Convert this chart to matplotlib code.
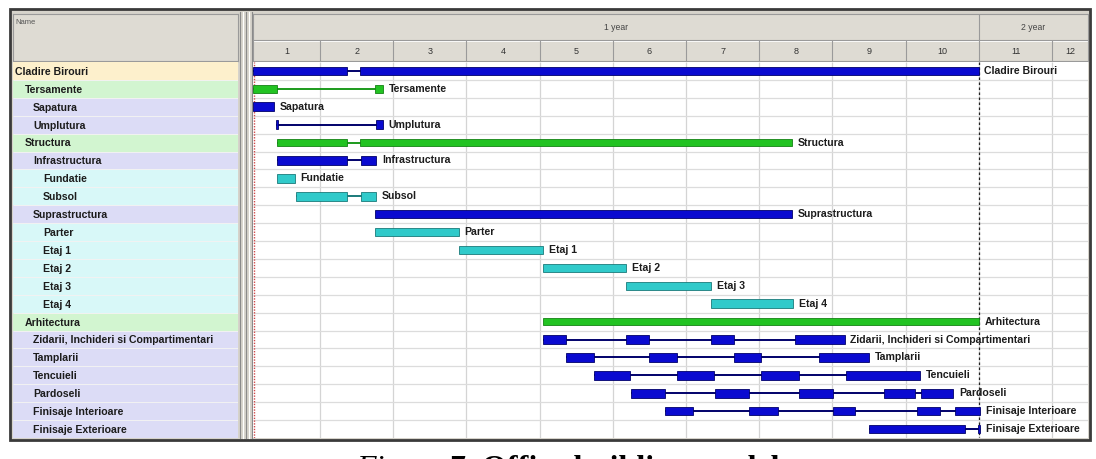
import matplotlib
matplotlib.use("Agg")
import matplotlib.pyplot as plt
from matplotlib.patches import Rectangle
from matplotlib.lines import Line2D

W, H = 1096, 459

# --- date ---
nume = ["Cladire Birouri", "Tersamente", "Sapatura", "Umplutura", "Structura",
        "Infrastructura", "Fundatie", "Subsol", "Suprastructura", "Parter",
        "Etaj 1", "Etaj 2", "Etaj 3", "Etaj 4", "Arhitectura",
        "Zidarii, Inchideri si Compartimentari", "Tamplarii", "Tencuieli",
        "Pardoseli", "Finisaje Interioare", "Finisaje Exterioare"]
nivel = [0, 1, 2, 2, 1, 2, 3, 3, 2, 3, 3, 3, 3, 3, 1, 2, 2, 2, 2, 2, 2]
tip = ["proiect", "grupa", "sarcina", "sarcina", "grupa", "sarcina", "detaliu",
       "detaliu", "sarcina", "detaliu", "detaliu", "detaliu", "detaliu",
       "detaliu", "grupa", "sarcina", "sarcina", "sarcina", "sarcina",
       "sarcina", "sarcina"]

# segmente (inceput, sfarsit) in luni
segmente = [
    [(0.09, 1.37), (1.55, 10.0)],
    [(0.09, 0.41), (1.75, 1.86)],
    [(0.09, 0.37)],
    [(0.40, 0.43), (1.76, 1.86)],
    [(0.41, 1.37), (1.55, 7.45)],
    [(0.41, 1.37), (1.56, 1.77)],
    [(0.41, 0.66)],
    [(0.67, 1.37), (1.56, 1.77)],
    [(1.75, 7.45)],
    [(1.75, 2.90)],
    [(2.90, 4.05)],
    [(4.05, 5.18)],
    [(5.18, 6.34)],
    [(6.34, 7.46)],
    [(4.05, 10.0)],
    [(4.05, 4.36), (5.18, 5.50), (6.34, 6.66), (7.49, 8.17)],
    [(4.36, 4.74), (5.50, 5.88), (6.66, 7.03), (7.82, 8.50)],
    [(4.74, 5.24), (5.88, 6.38), (7.03, 7.54), (8.19, 9.20)],
    [(5.25, 5.71), (6.39, 6.86), (7.54, 8.01), (8.70, 9.13), (9.21, 9.65)],
    [(5.71, 6.09), (6.86, 7.26), (8.01, 8.31), (9.15, 9.47), (9.68, 10.02)],
    [(8.50, 9.81), (9.99, 10.02)],
]

luni = list(range(1, 13))
ani = ["1 year", "2 year"]
limite_ani = [(0.085, 10), (10, 11.49)]
x_min, x_max = 0.085, 11.49
sfarsit_an = 10

culoare_bara = {"proiect": "#0a0ad0", "grupa": "#22c322",
                "sarcina": "#0a0ad0", "detaliu": "#30caca"}
margine_bara = {"proiect": "#00006a", "grupa": "#148214",
                "sarcina": "#00006a", "detaliu": "#1a7a7a"}
fundal_nume = {"proiect": "#fdf0cc", "grupa": "#d2f5d0",
               "sarcina": "#dcdcf6", "detaliu": "#d8f8f8"}

GRI = "#d6d3cb"


def cutie(x0, y0, x1, y1):
    return [x0 / W, 1 - y1 / H, (x1 - x0) / W, (y1 - y0) / H]


fig = plt.figure(figsize=(W / 100, H / 100), dpi=100)
fig.patch.set_facecolor("white")

# rama exterioara
fig.patches.append(Rectangle((10 / W, 1 - 440 / H), 1080 / W, 431 / H,
                             transform=fig.transFigure, facecolor=GRI,
                             edgecolor="#3a3a3a", linewidth=2, zorder=-10))
for xs, c in [(240, "#8a8a8a"), (243, "#ffffff"), (246, "#8a8a8a"),
              (249, "#ffffff"), (252, "#8a8a8a")]:
    fig.lines.append(Line2D([xs / W, xs / W], [1 - 438 / H, 1 - 12 / H],
                            transform=fig.transFigure, color=c, lw=0.8,
                            zorder=-5))

n = len(nume)
font = "Liberation Sans"
fs = 7.6

# --- antet nume ---
ah = fig.add_axes(cutie(13, 14, 238, 61))
ah.set_facecolor("#dedbd3")
ah.set_xticks([]); ah.set_yticks([])
for s in ah.spines.values():
    s.set_color("#9a9a9a"); s.set_linewidth(0.8)
ah.text(0.01, 0.82, "Name", transform=ah.transAxes, fontsize=5.5,
        color="#555555", family=font, va="center")

# --- coloana nume ---
an = fig.add_axes(cutie(13, 62, 238, 438))
an.set_xlim(0, 225)
an.set_ylim(n, 0)
an.barh(range(n), [225] * n, left=0, height=1, align="edge",
        color=[fundal_nume[t] for t in tip], edgecolor="none")
an.hlines(range(1, n), 0, 225, color="#f2f2f2", lw=0.7)
indent = {0: 2, 1: 12, 2: 20, 3: 30}
for i, (nm, lv) in enumerate(zip(nume, nivel)):
    an.text(indent[lv], i + 0.55, nm, fontsize=fs, fontweight="bold",
            family=font, color="#1c1c1c", va="center")
an.set_xticks([]); an.set_yticks([])
for s in an.spines.values():
    s.set_visible(False)

# --- antet calendar ---
at = fig.add_axes(cutie(253, 14, 1088, 61))
at.set_xlim(x_min, x_max)
at.set_ylim(47, 0)
at.set_facecolor("#dedbd3")
at.axhline(26, color="#9a9a9a", lw=0.8)
at.axhline(27, color="#ffffff", lw=0.6)
at.vlines([sfarsit_an], 0, 26, color="#9a9a9a", lw=0.8)
at.vlines(luni[:-1], 26, 47, color="#9a9a9a", lw=0.8)
for et, (a, b) in zip(ani, limite_ani):
    at.text((a + b) / 2, 13, et, ha="center", va="center", fontsize=6.2,
            color="#444444", family=font)
for m in luni:
    a, b = max(m - 1, x_min), min(m, x_max)
    at.text((a + b) / 2, 37, str(m), ha="center", va="center", fontsize=6.5,
            color="#333333", family=font)
at.set_xticks([]); at.set_yticks([])
for s in at.spines.values():
    s.set_color("#9a9a9a"); s.set_linewidth(0.8)

# --- diagrama Gantt ---
ax = fig.add_axes(cutie(253, 62, 1088, 438))
ax.set_xlim(x_min, x_max)
ax.set_ylim(n, 0)
ax.set_facecolor("white")
ax.vlines(luni[:-1], 0, n, color="#d4d4d4", lw=0.9, zorder=0)
ax.hlines(range(1, n), x_min, x_max, color="#dcdcdc", lw=0.9, zorder=0)
ax.axvline(x_min + 0.01, color="#d04848", lw=1.0, ls=(0, (1, 1)), zorder=1)
ax.vlines(sfarsit_an, 0, n, color="#222222", lw=0.9, ls=(0, (2, 2)), zorder=1)

for i, segs in enumerate(segmente):
    y = i + 0.5
    t = tip[i]
    if len(segs) > 1:
        ax.hlines(y, segs[0][0], segs[-1][1],
                  color=margine_bara[t] if t != "grupa" else "#1c9a1c",
                  lw=1.4, zorder=2)
    h = 0.42 if t in ("proiect", "grupa") or i == 8 else 0.48
    for a, b in segs:
        ax.barh(y, b - a, left=a, height=h, color=culoare_bara[t],
                edgecolor=margine_bara[t], linewidth=0.6, zorder=3)
    ax.annotate(nume[i], (segs[-1][1], y), xytext=(4, 0),
                textcoords="offset points", va="center", fontsize=fs,
                fontweight="bold", family=font, color="#1c1c1c", zorder=4)
ax.set_xticks([]); ax.set_yticks([])
for s in ax.spines.values():
    s.set_visible(False)

# --- legenda figurii (taiata jos, ca in original) ---
t1 = fig.text(356 / W, 1 - 477 / H, "Figure ", fontsize=23, style="italic",
              family="Liberation Serif", va="baseline")
fig.canvas.draw()
bb = t1.get_window_extent()
fig.text(bb.x1 / W, 1 - 477 / H, "7. Office building model", fontsize=23,
         fontweight="bold", family="Liberation Serif", va="baseline")

fig.savefig("out.png", dpi=100)
